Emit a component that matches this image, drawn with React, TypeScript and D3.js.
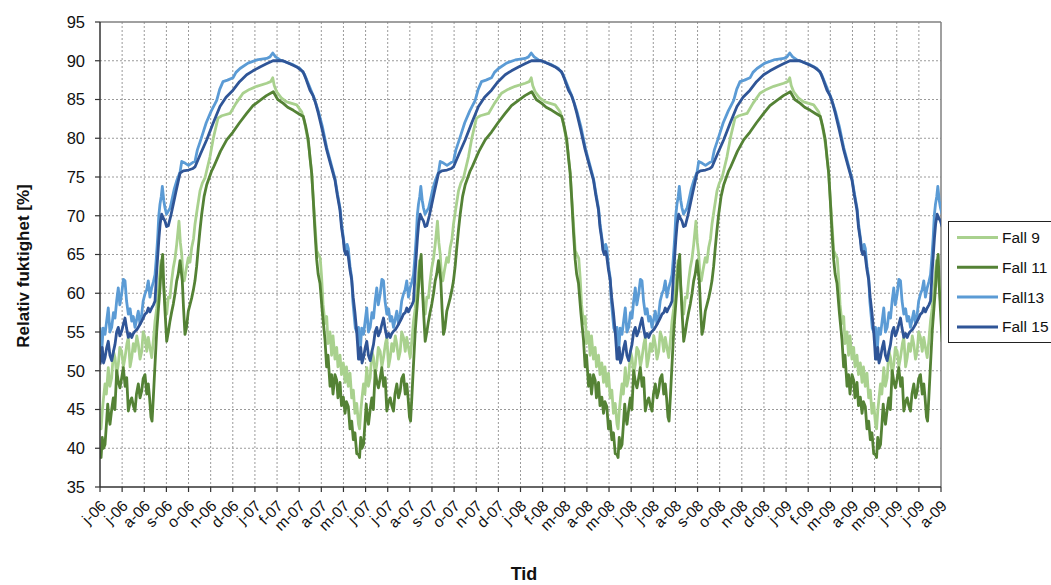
import React from "react";
import * as d3 from "d3";

// One simulated year (day of year from start of June, value %), repeated in the chart
const fall9Year: [number, number][] = [
  [0, 43.1], [1.5, 42.5], [3.2, 44.8], [5, 46.5], [7.1, 48.3], [9, 47], [11.7, 50.4], [14, 48], [16.5, 49.1], [19, 52.5],
  [21.2, 51.7], [23.5, 49.5], [25.8, 50.8], [28, 53], [30.6, 52.5], [33, 50.5], [35.3, 51.7], [38, 53.5], [40, 54.3],
  [42.5, 50.5], [44.8, 51.7], [47, 53.5], [49.4, 52.5], [52, 54.5], [54.1, 53.4], [56.5, 51.5], [58.9, 52.5], [61, 55],
  [63.5, 54.3], [66, 52.5], [68.2, 54.3], [70.5, 53], [73, 51.7], [75.5, 54], [77.7, 56.4], [80, 58], [82.3, 60.2],
  [84, 62], [86.1, 64.2], [89.4, 61.6], [92, 58.5], [94.2, 57.3], [96.5, 59.5], [98.8, 59.4], [101, 61.5], [103.5, 63.3],
  [106, 64.5], [108.3, 66.3], [111.5, 69.3], [113.5, 66.5], [115.4, 65], [117, 62.5], [119, 61.6], [121.5, 63],
  [124.7, 64.6], [127, 64], [129.5, 65.9], [132, 67], [134.1, 68.9], [137.5, 71], [141.2, 73.2], [144.5, 74.2],
  [148.3, 74.9], [155.3, 77.6], [160, 80], [166.6, 82.6], [172, 82.9], [183.6, 83.2], [192, 84.5], [201.9, 85.8],
  [211, 86.3], [221.3, 86.7], [235.4, 87.1], [241, 87.3], [243.9, 87.8], [246, 86.8], [249.5, 86], [256, 85.2],
  [263.6, 84.7], [277.7, 84.3], [284.8, 83.4], [288.5, 82.2], [291.9, 80.6], [295.5, 78.5], [298.9, 75.5], [301.2, 72],
  [303.5, 69], [306, 65.5], [308.5, 65], [311, 64.5], [313, 62], [315, 58.5], [317.7, 56.1], [320.1, 57], [322, 53.5],
  [324.8, 55], [327, 52], [329, 54.5], [331.8, 51.5], [334.2, 53], [336, 50.5], [338.9, 52], [341, 49.5], [343.6, 51],
  [346, 48.5], [348, 50.5], [350.6, 48], [353, 49.7], [355.4, 46.5], [357.7, 47.5], [360, 44.5], [362.5, 45.8],
  [365, 43.1],
];

const fall11Year: [number, number][] = [
  [0, 39.2], [1.5, 38.8], [3.2, 41.4], [5, 40], [7.1, 40.5], [9, 43], [10.9, 45.7], [12.5, 44], [14.1, 43.1],
  [16.5, 45], [18.8, 46.5], [21, 45], [23.6, 50], [26, 48.5], [28.2, 47.8], [30.5, 49], [32.9, 50.4], [35.5, 48],
  [37.7, 49.1], [40, 44.8], [42.5, 46], [44.8, 46.5], [47, 45.5], [49.4, 44.8], [51.5, 47], [54.1, 48.3], [56.5, 46.5],
  [58.9, 47.4], [61, 49], [63.5, 49.5], [66, 47], [68.2, 48.3], [70, 46.5], [72, 44], [73.5, 43.5], [75.3, 46.5],
  [77.5, 50.5], [80.1, 55.1], [82.5, 58], [84.7, 60.7], [86.5, 63.5], [88.5, 65], [90, 61], [91.8, 57.7], [94.2, 53.8],
  [96.5, 55], [98.8, 56.4], [101, 57.5], [103.5, 58.6], [106, 60], [108.3, 61.6], [110.5, 62.5], [113, 64.2],
  [116.2, 61.6], [118, 58], [120, 54.7], [122, 55.5], [124.7, 57.7], [127, 58.5], [129.5, 59.4], [132, 60.5],
  [134.1, 61.6], [136.5, 63.5], [138.8, 65.9], [141, 68], [143.6, 70.2], [147, 72.5], [150.7, 74], [157.7, 75.8],
  [160, 76.2], [170, 78.3], [178.9, 79.8], [187.8, 80.8], [197, 82], [207.1, 83.2], [216, 84.2], [225.9, 84.9],
  [235, 85.5], [244.7, 86], [251, 85], [258.8, 84.5], [265, 84], [273, 83.6], [280, 83.2], [287.1, 82.8],
  [290.5, 81.5], [294.1, 79.8], [296.5, 77.5], [298.9, 75.5], [301.2, 72], [303.5, 68], [306, 64.3], [308, 62.5],
  [310.6, 61.3], [314, 57.5], [317.7, 54], [320, 50.5], [322, 52], [324.8, 48], [327, 49.5], [329, 47], [331.8, 49.5],
  [334.2, 48.8], [336, 46.5], [338.9, 48.5], [341, 45.5], [343.6, 46.6], [346, 44.5], [348, 46], [350.6, 45.4],
  [353, 42.5], [355.4, 43.5], [357.7, 41.1], [360, 42], [362.5, 39.3], [365, 39.2],
];

const fall13Year: [number, number][] = [
  [0, 55.6], [1.2, 53], [2.4, 52.5], [4.5, 55.5], [7.1, 54.7], [9.5, 56.5], [11.7, 58.1], [14, 55], [16.5, 55.6],
  [19, 57.5], [21.2, 56.8], [23.5, 59], [25.8, 60.7], [28, 58.5], [30.6, 59.9], [33, 61.8], [35.3, 61.6], [37.5, 59],
  [40, 57.3], [42.5, 58], [44.8, 56.4], [47, 57], [49.4, 55.6], [51.5, 56.5], [54.1, 57.7], [56.5, 56], [58.9, 57.3],
  [61, 59], [63.5, 59.9], [66, 60.5], [68.2, 61.6], [70.5, 59.5], [73, 60.7], [75.5, 61.5], [77.7, 62.4], [79.5, 64.5],
  [81.5, 67.2], [83, 70], [84.7, 71.5], [86.5, 72.5], [88, 73.8], [90, 72], [91.8, 71], [94, 70.2], [96.4, 70.6],
  [99, 71], [101.2, 71.9], [105, 73.5], [108.3, 74.5], [113, 75.6], [115.4, 77], [120, 76.8], [125, 76.5],
  [131.3, 76.9], [134.1, 77], [137.5, 78.5], [141.2, 79.5], [145.4, 80.7], [150, 82], [157, 83.5], [164.8, 84.9],
  [169, 86.3], [173.7, 87.3], [180, 87.5], [187.8, 87.8], [192, 88.5], [197.7, 89], [209, 89.7], [221.3, 90.1],
  [235.4, 90.3], [240, 90.5], [243.9, 91], [248, 90.5], [254.2, 90.1], [263, 89.8], [272.5, 89.5], [282.4, 89],
  [289, 88.2], [296.5, 86.5], [302, 85.3], [308.3, 83.5], [314, 81.5], [320.1, 78.8], [326, 76.8], [331.8, 74.8],
  [335, 73], [338.9, 71], [341, 69], [343.6, 67.2], [345, 66.2], [347, 65.5], [349, 66.3], [350.6, 65.8], [353, 63.5],
  [355.4, 62], [357, 59], [359, 57], [360.5, 55.5], [362.5, 55], [365, 55.6],
];

const fall15Year: [number, number][] = [
  [0, 50.8], [1.5, 51.5], [3.2, 53], [5, 51], [7.1, 51.7], [9.5, 53], [11.7, 53.8], [14, 52], [16.5, 51.3],
  [19, 52.5], [21.2, 53.4], [23.5, 55], [25.8, 55.6], [28, 54.5], [30.6, 55.1], [33, 56], [35.3, 56.8], [37.5, 55.5],
  [40, 54.3], [42.5, 54.8], [44.8, 54.3], [47, 54.8], [49.4, 55.1], [52, 55.3], [54.1, 55.6], [56.5, 56], [58.9, 56.4],
  [61, 56.8], [63.5, 57.3], [66, 57.5], [68.2, 58.1], [70.5, 57.6], [73, 58.1], [75.5, 58.5], [77.7, 59], [80.1, 62.9],
  [83.3, 67.2], [85, 69], [87.1, 70.2], [89.5, 69.7], [91.8, 69.3], [94, 68.6], [96.4, 68.7], [100, 70], [103.5, 71.5],
  [107, 73], [110.6, 74.5], [113, 75.5], [117.6, 75.8], [125, 75.9], [131.3, 76.1], [134.1, 76.3], [142, 78],
  [150.7, 79.8], [160, 82], [169.4, 84.1], [178, 85.3], [187.8, 86.2], [197, 87.3], [207.1, 88.2], [216, 88.7],
  [225.9, 89.2], [235, 89.6], [244.3, 90], [251, 90], [258.4, 90], [268, 89.6], [277.7, 89.2], [286.6, 88.6],
  [291, 87.6], [296.5, 86.2], [300.8, 85.5], [304.5, 84.5], [308.3, 83.2], [314, 81], [320.1, 78.5], [326, 76.5],
  [331.8, 74.6], [335, 72.7], [338.9, 70.7], [341, 68.5], [343.6, 66.9], [345, 65.6], [347, 65], [349, 65.4],
  [350.6, 64.7], [353, 63], [355.4, 61.7], [357.5, 59.5], [360, 57.5], [362.5, 55], [364, 53], [365, 51.5],
];

const seriesNames = ["Fall 9", "Fall 11", "Fall13", "Fall 15"];
const seriesColors = ["#a9d18e", "#548235", "#5b9bd5", "#2f5597"];
const yearlyData = [fall9Year, fall11Year, fall13Year, fall15Year];

const tickLabels = [
  "j-06", "j-06", "a-06", "s-06", "o-06", "n-06", "d-06", "j-07", "f-07", "m-07", "a-07", "m-07", "j-07",
  "j-07", "a-07", "s-07", "o-07", "n-07", "d-07", "j-08", "f-08", "m-08", "a-08", "m-08", "j-08", "j-08",
  "a-08", "s-08", "o-08", "n-08", "d-08", "j-09", "f-09", "m-09", "a-09", "m-09", "j-09", "j-09", "a-09",
];
const tickStepDays = 31.25; // 750 hours
const yearDays = 365;
const yTicks = [35, 40, 45, 50, 55, 60, 65, 70, 75, 80, 85, 90, 95];

const W = 1051;
const H = 585;
const left = 100;
const right = 941;
const top = 22;
const bottom = 487;
const font = "'Liberation Sans', Arial, sans-serif";

export default function App() {
  const maxDay = (tickLabels.length - 1) * tickStepDays;
  const x = d3.scaleLinear().domain([0, maxDay]).range([left, right]);
  const y = d3.scaleLinear().domain([35, 95]).range([bottom, top]);
  const line = d3
    .line<[number, number]>()
    .x((d) => x(d[0]))
    .y((d) => y(d[1]));

  const fullSeries = yearlyData.map((yr) => {
    const pts: [number, number][] = [];
    for (let c = 0; c * yearDays <= maxDay; c++) {
      yr.forEach(([d, v], i) => {
        if (c > 0 && i === 0) return;
        const day = c * yearDays + d;
        if (day <= maxDay + 15) pts.push([day, v]);
      });
    }
    return pts;
  });

  const xTickDays = tickLabels.map((_, i) => i * tickStepDays);

  return (
    <svg
      width={W}
      height={H}
      style={{ position: "absolute", left: 0, top: 0, background: "#fff" }}
      fontFamily={font}
    >
      <defs>
        <clipPath id="plot">
          <rect x={left} y={top - 2} width={right - left} height={bottom - top + 4} />
        </clipPath>
      </defs>
      {/* grid */}
      {yTicks.slice(1, -1).map((t) => (
        <line key={"gy" + t} x1={left} x2={right} y1={y(t)} y2={y(t)} stroke="#9a9a9a" strokeWidth={1} strokeDasharray="2,2" />
      ))}
      {xTickDays.slice(1, -1).map((d, i) => (
        <line key={"gx" + i} x1={x(d)} x2={x(d)} y1={top} y2={bottom} stroke="#9a9a9a" strokeWidth={1} strokeDasharray="2,2" />
      ))}
      {/* border top/right */}
      <line x1={left} x2={right} y1={top} y2={top} stroke="#808080" strokeWidth={1.5} />
      <line x1={right} x2={right} y1={top} y2={bottom} stroke="#808080" strokeWidth={1.5} />
      {/* series */}
      <g clipPath="url(#plot)">
        {fullSeries.map((pts, i) => (
          <path key={i} d={line(pts) || ""} fill="none" stroke={seriesColors[i]} strokeWidth={2.8} strokeLinejoin="round" />
        ))}
      </g>
      {/* axes */}
      <line x1={left} x2={left} y1={top} y2={bottom} stroke="#333" strokeWidth={1.5} />
      <line x1={left} x2={right} y1={bottom} y2={bottom} stroke="#333" strokeWidth={1.5} />
      {yTicks.map((t) => (
        <g key={"yt" + t}>
          <line x1={left - 5} x2={left} y1={y(t)} y2={y(t)} stroke="#333" strokeWidth={1.2} />
          <text x={left - 15} y={y(t)} dy="0.36em" textAnchor="end" fontSize={16.5} fill="#111">
            {t}
          </text>
        </g>
      ))}
      {xTickDays.map((d, i) => (
        <g key={"xt" + i}>
          <line x1={x(d)} x2={x(d)} y1={bottom} y2={bottom + 5} stroke="#333" strokeWidth={1.2} />
          <text
            transform={`translate(${x(d) + 3},${bottom + 16}) rotate(-45)`}
            textAnchor="end"
            dy="0.35em"
            fontSize={15.5}
            fill="#111"
          >
            {tickLabels[i]}
          </text>
        </g>
      ))}
      {/* axis titles */}
      <text x={524} y={580} textAnchor="middle" fontSize={18} fontWeight="bold" fill="#111">
        Tid
      </text>
      <text
        transform={`translate(29,266) rotate(-90)`}
        textAnchor="middle"
        fontSize={17}
        fontWeight="bold"
        fill="#111"
      >
        Relativ fuktighet [%]
      </text>
      {/* legend */}
      <rect x={948.5} y={221.5} width={110} height={121} fill="#fff" stroke="#222" strokeWidth={1} />
      {seriesNames.map((n, i) => (
        <g key={n}>
          <line x1={957} x2={998} y1={237.5 + i * 29.8} y2={237.5 + i * 29.8} stroke={seriesColors[i]} strokeWidth={3} />
          <text x={1002} y={237.5 + i * 29.8} dy="0.36em" fontSize={15.5} fill="#111">
            {n}
          </text>
        </g>
      ))}
    </svg>
  );
}
